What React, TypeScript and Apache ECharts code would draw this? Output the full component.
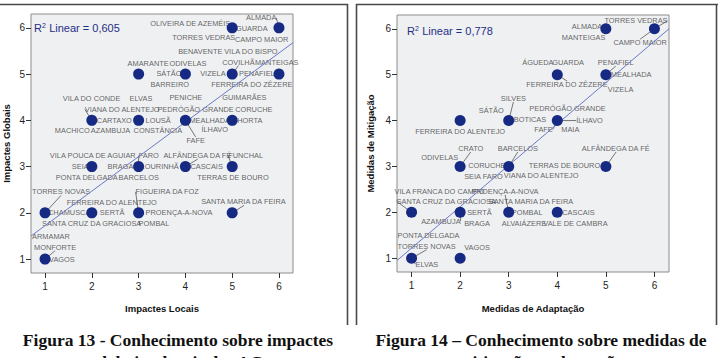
import React, { useEffect, useRef } from "react";
import * as echarts from "echarts";

// ---- Figura 13: impactes locais (x) vs impactes globais (y) ----
const leftX = [5, 6, 3, 4, 5, 6, 2, 3, 4, 5, 2, 3, 4, 5, 1, 2, 3, 5, 1];
const leftY = [6, 6, 5, 5, 5, 5, 4, 4, 4, 4, 3, 3, 3, 3, 2, 2, 2, 2, 1];
const leftNames: string[][] = [
  ["OLIVEIRA DE AZEMÉIS", "TORRES VEDRAS"],
  ["ALMADA", "GUARDA", "CAMPO MAIOR"],
  ["AMARANTE"],
  ["ODIVELAS", "SÁTÃO", "BARREIRO"],
  ["BENAVENTE", "VILA DO BISPO", "COVILHÃ", "VIZELA", "FERREIRA DO ZÊZERE"],
  ["MANTEIGAS", "PENAFIEL"],
  ["VILA DO CONDE", "VIANA DO ALENTEJO", "CARTAXO", "MACHICO", "AZAMBUJA"],
  ["ELVAS", "LOUSÃ", "CONSTÂNCIA"],
  ["PENICHE", "PEDRÓGÃO GRANDE", "MEALHADA", "ÍLHAVO", "FAFE"],
  ["GUIMARÃES", "CORUCHE", "HORTA"],
  ["VILA POUCA DE AGUIAR", "SEIA", "PONTA DELGADA"],
  ["FARO", "BRAGA", "LOURINHÃ", "BARCELOS"],
  ["ALFÂNDEGA DA FÉ", "CASCAIS"],
  ["FUNCHAL", "TERRAS DE BOURO"],
  ["TORRES NOVAS", "CHAMUSCA", "SANTA CRUZ DA GRACIOSA"],
  ["FERREIRA DO ALENTEJO", "SERTÃ"],
  ["FIGUEIRA DA FOZ", "PROENÇA-A-NOVA", "POMBAL"],
  ["SANTA MARIA DA FEIRA"],
  ["ARMAMAR", "MONFORTE", "VAGOS"],
];
const leftR2 = "0,605";
const leftFit: [number, number][] = [
  [0.7, 1.5],
  [6.3, 5.68],
];

// ---- Figura 14: medidas de adaptação (x) vs medidas de mitigação (y) ----
const rightX = [5, 6, 4, 5, 2, 3, 4, 2, 3, 5, 1, 2, 3, 4, 1, 2];
const rightY = [6, 6, 5, 5, 4, 4, 4, 3, 3, 3, 2, 2, 2, 2, 1, 1];
const rightNames: string[][] = [
  ["ALMADA", "MANTEIGAS"],
  ["TORRES VEDRAS", "CAMPO MAIOR"],
  ["ÁGUEDA", "GUARDA", "FERREIRA DO ZÊZERE"],
  ["PENAFIEL", "MEALHADA", "VIZELA"],
  ["FERREIRA DO ALENTEJO"],
  ["SILVES", "SÁTÃO", "BOTICAS"],
  ["PEDRÓGÃO GRANDE", "ÍLHAVO", "FAFE", "MAIA"],
  ["CRATO", "ODIVELAS", "CORUCHE", "SEIA"],
  ["BARCELOS", "FARO", "TERRAS DE BOURO", "VIANA DO ALENTEJO"],
  ["ALFÂNDEGA DA FÉ"],
  ["VILA FRANCA DO CAMPO", "SANTA CRUZ DA GRACIOSA"],
  ["SERTÃ", "AZAMBUJA", "BRAGA"],
  ["PROENÇA-A-NOVA", "SANTA MARIA DA FEIRA", "POMBAL", "ALVAIÁZERE"],
  ["CASCAIS", "VALE DE CAMBRA"],
  ["PONTA DELGADA", "TORRES NOVAS", "ELVAS"],
  ["VAGOS"],
];
const rightR2 = "0,778";
const rightFit: [number, number][] = [
  [0.7, 0.95],
  [6.3, 6.0],
];

const tickValues = [1, 2, 3, 4, 5, 6];

// Label placement: pixel offset of each label's left edge / vertical centre from its point
const leftLabelOffsets: Record<string, [number, number]> = {
  "OLIVEIRA DE AZEMÉIS": [-82, -4],
  "TORRES VEDRAS": [-60, 10],
  ALMADA: [-33, -10],
  GUARDA: [-43, 1],
  "CAMPO MAIOR": [-44, 12],
  AMARANTE: [-11, -11],
  ODIVELAS: [-16, -11],
  SÁTÃO: [-29, -1],
  BARREIRO: [-35, 10],
  BENAVENTE: [-54, -23],
  "VILA DO BISPO": [-8, -23],
  COVILHÃ: [-10, -12],
  VIZELA: [-32, -1],
  "FERREIRA DO ZÊZERE": [-21, 10],
  MANTEIGAS: [-24, -12],
  PENAFIEL: [-40, -1],
  "VILA DO CONDE": [-29, -22],
  "VIANA DO ALENTEJO": [-7, -11],
  CARTAXO: [5, 0],
  MACHICO: [-37, 10],
  AZAMBUJA: [-1, 10],
  ELVAS: [-9, -22],
  LOUSÃ: [7, 0],
  CONSTÂNCIA: [-5, 10],
  PENICHE: [-16, -23],
  "PEDRÓGÃO GRANDE": [-28, -11],
  MEALHADA: [4, 0],
  ÍLHAVO: [16, 9],
  FAFE: [1, 20],
  GUIMARÃES: [-10, -23],
  CORUCHE: [3, -11],
  HORTA: [5, 0],
  "VILA POUCA DE AGUIAR": [-42, -11],
  SEIA: [-20, 0],
  "PONTA DELGADA": [-36, 11],
  FARO: [0, -11],
  BRAGA: [-31, 0],
  LOURINHÃ: [2, 0],
  BARCELOS: [-20, 11],
  "ALFÂNDEGA DA FÉ": [-22, -11],
  CASCAIS: [5, 0],
  FUNCHAL: [-4, -11],
  "TERRAS DE BOURO": [-35, 11],
  "TORRES NOVAS": [-13, -21],
  CHAMUSCA: [3, 0],
  "SANTA CRUZ DA GRACIOSA": [-3, 11],
  "FERREIRA DO ALENTEJO": [-25, -10],
  SERTÃ: [8, 0],
  "FIGUEIRA DA FOZ": [-3, -21],
  "PROENÇA-A-NOVA": [7, 0],
  POMBAL: [0, 11],
  "SANTA MARIA DA FEIRA": [-31, -11],
  ARMAMAR: [-13, -23],
  MONFORTE: [-11, -12],
  VAGOS: [4, 0],
};

const rightLabelOffsets: Record<string, [number, number]> = {
  ALMADA: [-34, -2],
  MANTEIGAS: [-44, 9],
  "TORRES VEDRAS": [-50, -8],
  "CAMPO MAIOR": [-41, 14],
  ÁGUEDA: [-35, -12],
  GUARDA: [-5, -12],
  "FERREIRA DO ZÊZERE": [-31, 10],
  PENAFIEL: [-8, -12],
  MEALHADA: [5, 0],
  VIZELA: [2, 15],
  "FERREIRA DO ALENTEJO": [-45, 11],
  SILVES: [-8, -22],
  SÁTÃO: [-30, -10],
  BOTICAS: [5, -1],
  "PEDRÓGÃO GRANDE": [-28, -12],
  ÍLHAVO: [19, 0],
  FAFE: [-23, 9],
  MAIA: [4, 9],
  CRATO: [-2, -18],
  ODIVELAS: [-39, -9],
  CORUCHE: [8, -1],
  SEIA: [4, 10],
  BARCELOS: [-11, -18],
  FARO: [-26, 10],
  "TERRAS DE BOURO": [20, -1],
  "VIANA DO ALENTEJO": [-5, 9],
  "ALFÂNDEGA DA FÉ": [-24, -18],
  "VILA FRANCA DO CAMPO": [-17, -21],
  "SANTA CRUZ DA GRACIOSA": [-15, -11],
  SERTÃ: [7, 0],
  AZAMBUJA: [-39, 9],
  BRAGA: [4, 11],
  "PROENÇA-A-NOVA": [-37, -21],
  "SANTA MARIA DA FEIRA": [-20, -11],
  POMBAL: [3, 0],
  ALVAIÁZERE: [-7, 11],
  CASCAIS: [5, 0],
  "VALE DE CAMBRA": [-14, 11],
  "PONTA DELGADA": [-14, -23],
  "TORRES NOVAS": [-14, -12],
  ELVAS: [4, 6],
  VAGOS: [4, -11],
};

// Labels that are tied to their point by a short leader line
const leftLeaders = [
  "OLIVEIRA DE AZEMÉIS",
  "ALMADA",
  "COVILHÃ",
  "FAFE",
  "FARO",
  "ALFÂNDEGA DA FÉ",
  "FUNCHAL",
  "TORRES NOVAS",
  "FIGUEIRA DA FOZ",
  "SANTA MARIA DA FEIRA",
  "MONFORTE",
  "VIANA DO ALENTEJO",
];
const rightLeaders = [
  "TORRES VEDRAS",
  "CAMPO MAIOR",
  "FERREIRA DO ZÊZERE",
  "PENAFIEL",
  "SILVES",
  "ÍLHAVO",
  "FAFE",
  "CRATO",
  "BARCELOS",
  "ALFÂNDEGA DA FÉ",
  "PROENÇA-A-NOVA",
  "SANTA CRUZ DA GRACIOSA",
  "AZAMBUJA",
  "TORRES NOVAS",
  "ELVAS",
];

const POINT_COLOR = "#172a83";
const FIT_COLOR = "#6b78c6";
const LABEL_FONT = "'Liberation Sans', Arial, sans-serif";
const AXIS_FONT = "'Liberation Sans', Arial, sans-serif";

function labelItems(
  xs: number[],
  ys: number[],
  names: string[][],
  offsets: Record<string, [number, number]>,
  leaders: string[]
) {
  const items: any[] = [];
  names.forEach((group, i) => {
    group.forEach((name) => {
      const off = offsets[name] || [6, 0];
      items.push({
        value: [xs[i], ys[i]],
        name,
        label: { formatter: name, offset: off },
        labelLine: {
          show: leaders.includes(name),
          lineStyle: { color: "#555", width: 0.8 },
        },
      });
    });
  });
  return items;
}

function buildAxes(gridIndex: number, xName: string, yName: string, xGap: number, yGap: number) {
  const common = {
    gridIndex,
    type: "value" as const,
    min: 0.7,
    max: 6.3,
    splitLine: { show: false },
    axisLine: { show: false },
    axisTick: {
      show: true,
      inside: false,
      length: 5,
      customValues: tickValues,
      lineStyle: { color: "#333", width: 1 },
    },
    axisLabel: {
      customValues: tickValues,
      color: "#1e1e1e",
      fontSize: 10,
      fontFamily: AXIS_FONT,
    },
    nameLocation: "middle" as const,
    nameTextStyle: {
      fontWeight: "bold" as const,
      fontSize: 9.5,
      color: "#111",
      fontFamily: AXIS_FONT,
    },
  };
  return {
    x: {
      ...common,
      name: xName,
      nameGap: xGap,
      axisLabel: { ...common.axisLabel, margin: 8 },
    },
    y: {
      ...common,
      name: yName,
      nameGap: yGap,
      axisLabel: { ...common.axisLabel, margin: 6 },
    },
  };
}

function App() {
  const ref = useRef<HTMLDivElement>(null);

  useEffect(() => {
    if (!ref.current) return;
    const chart = echarts.init(ref.current, undefined, { renderer: "svg" });

    const a0 = buildAxes(0, "Impactes Locais", "Impactes Globais", 30, 20);
    const a1 = buildAxes(1, "Medidas de Adaptação", "Medidas de Mitigação", 31, 22);

    const labelSeries = (xi: number, data: any[]) => ({
      type: "scatter",
      xAxisIndex: xi,
      yAxisIndex: xi,
      z: 1,
      symbolSize: 1,
      itemStyle: { color: "rgba(0,0,0,0)" },
      silent: true,
      label: {
        show: true,
        position: "inside",
        align: "left",
        verticalAlign: "middle",
        fontSize: 7.4,
        fontFamily: LABEL_FONT,
        color: "#3c3c3c",
      },
      data,
    });

    const pointSeries = (xi: number, xs: number[], ys: number[]) => ({
      type: "scatter",
      xAxisIndex: xi,
      yAxisIndex: xi,
      z: 4,
      symbolSize: 11,
      itemStyle: { color: POINT_COLOR, opacity: 1 },
      data: xs.map((x, i) => [x, ys[i]]),
    });

    const fitSeries = (xi: number, pts: [number, number][]) => ({
      type: "line",
      xAxisIndex: xi,
      yAxisIndex: xi,
      z: 2,
      symbol: "none",
      clip: true,
      lineStyle: { color: FIT_COLOR, width: 1 },
      data: pts,
    });

    const r2Text = (left: number, top: number, value: string) => ({
      type: "text",
      left,
      top,
      z: 10,
      style: {
        text: "{r|R}{s|2} {r|Linear = " + value + "}",
        rich: {
          r: { fontSize: 11, fontFamily: AXIS_FONT, fill: "#1f2f86", fontWeight: "normal" },
          s: { fontSize: 7, fontFamily: AXIS_FONT, fill: "#1f2f86", verticalAlign: "top", padding: [0, 0, 5, 0] },
        },
      },
    });

    const caption = (cx: number, cy: number, text: string) => ({
      type: "text",
      x: cx,
      y: cy,
      z: 10,
      style: {
        text,
        fill: "#111",
        font: "bold 17.5px 'Liberation Serif', 'Times New Roman', serif",
        textAlign: "center",
        textVerticalAlign: "middle",
      },
    });

    const frameLine = (x1: number, y1: number, x2: number, y2: number) => ({
      type: "line",
      z: 10,
      shape: { x1, y1, x2, y2 },
      style: { stroke: "#4a4a4a", lineWidth: 1.6 },
    });

    chart.setOption({
      animation: false,
      backgroundColor: "#ffffff",
      grid: [
        {
          left: 29,
          top: 14,
          width: 264,
          height: 259,
          show: true,
          backgroundColor: "#eff0f2",
          borderColor: "#8c8c8c",
          borderWidth: 1,
        },
        {
          left: 397,
          top: 15,
          width: 272,
          height: 257,
          show: true,
          backgroundColor: "#eff0f2",
          borderColor: "#8c8c8c",
          borderWidth: 1,
        },
      ],
      xAxis: [a0.x, a1.x],
      yAxis: [a0.y, a1.y],
      series: [
        fitSeries(0, leftFit),
        labelSeries(0, labelItems(leftX, leftY, leftNames, leftLabelOffsets, leftLeaders)),
        pointSeries(0, leftX, leftY),
        fitSeries(1, rightFit),
        labelSeries(1, labelItems(rightX, rightY, rightNames, rightLabelOffsets, rightLeaders)),
        pointSeries(1, rightX, rightY),
      ],
      graphic: [
        r2Text(34, 22, leftR2),
        r2Text(407, 25, rightR2),
        frameLine(0, 4.5, 348, 4.5),
        frameLine(347.5, 4, 347.5, 325),
        frameLine(356, 4.5, 718, 4.5),
        frameLine(356.5, 4, 356.5, 325),
        frameLine(716.5, 4, 716.5, 325),
        caption(178, 340, "Figura 13 - Conhecimento sobre impactes"),
        caption(178, 362, "globais e locais dos AC"),
        caption(541, 340, "Figura 14 – Conhecimento sobre medidas de"),
        caption(541, 362, "mitigação e adaptação"),
      ],
    });

    return () => chart.dispose();
  }, []);

  return (
    <div
      ref={ref}
      style={{
        position: "absolute",
        left: 0,
        top: 0,
        width: 719,
        height: 358,
        background: "#fff",
      }}
    />
  );
}

export default App;
